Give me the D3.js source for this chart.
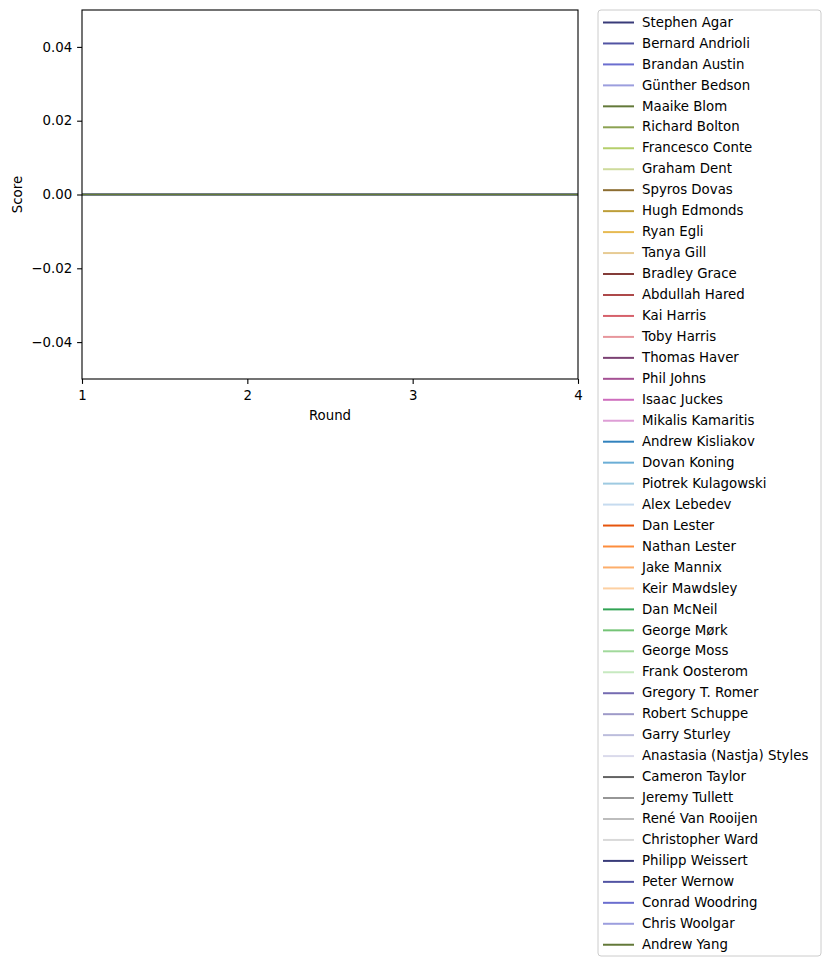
<!DOCTYPE html>
<html>
<head>
<meta charset="utf-8">
<script src="https://cdn.jsdelivr.net/npm/d3@7"></script>
<style>
  body { margin: 0; background: #fff; }
  svg text { font-family: "DejaVu Sans", sans-serif; fill: #000; }
</style>
</head>
<body>
<div class="chart"></div>
<script>
// data
const rounds = [1, 2, 3, 4];
const players = [
  "Stephen Agar", "Bernard Andrioli", "Brandan Austin", "Günther Bedson", "Maaike Blom",
  "Richard Bolton", "Francesco Conte", "Graham Dent", "Spyros Dovas", "Hugh Edmonds",
  "Ryan Egli", "Tanya Gill", "Bradley Grace", "Abdullah Hared", "Kai Harris",
  "Toby Harris", "Thomas Haver", "Phil Johns", "Isaac Juckes", "Mikalis Kamaritis",
  "Andrew Kisliakov", "Dovan Koning", "Piotrek Kulagowski", "Alex Lebedev", "Dan Lester",
  "Nathan Lester", "Jake Mannix", "Keir Mawdsley", "Dan McNeil", "George Mørk",
  "George Moss", "Frank Oosterom", "Gregory T. Romer", "Robert Schuppe", "Garry Sturley",
  "Anastasia (Nastja) Styles", "Cameron Taylor", "Jeremy Tullett", "René Van Rooijen", "Christopher Ward",
  "Philipp Weissert", "Peter Wernow", "Conrad Woodring", "Chris Woolgar", "Andrew Yang"
];
// score per round for each player (all flat at zero)
const scores = [
  [0,0,0,0],[0,0,0,0],[0,0,0,0],[0,0,0,0],[0,0,0,0],
  [0,0,0,0],[0,0,0,0],[0,0,0,0],[0,0,0,0],[0,0,0,0],
  [0,0,0,0],[0,0,0,0],[0,0,0,0],[0,0,0,0],[0,0,0,0],
  [0,0,0,0],[0,0,0,0],[0,0,0,0],[0,0,0,0],[0,0,0,0],
  [0,0,0,0],[0,0,0,0],[0,0,0,0],[0,0,0,0],[0,0,0,0],
  [0,0,0,0],[0,0,0,0],[0,0,0,0],[0,0,0,0],[0,0,0,0],
  [0,0,0,0],[0,0,0,0],[0,0,0,0],[0,0,0,0],[0,0,0,0],
  [0,0,0,0],[0,0,0,0],[0,0,0,0],[0,0,0,0],[0,0,0,0],
  [0,0,0,0],[0,0,0,0],[0,0,0,0],[0,0,0,0],[0,0,0,0]
];
const yTicks = [-0.04, -0.02, 0.00, 0.02, 0.04];

// tab20b followed by tab20c, cycling
const palette = [
  "#393b79","#5254a3","#6b6ecf","#9c9ede","#637939","#8ca252","#b5cf6b","#cedb9c",
  "#8c6d31","#bd9e39","#e7ba52","#e7cb94","#843c39","#ad494a","#d6616b","#e7969c",
  "#7b4173","#a55194","#ce6dbd","#de9ed6",
  "#3182bd","#6baed6","#9ecae1","#c6dbef","#e6550d","#fd8d3c","#fdae6b","#fdd0a2",
  "#31a354","#74c476","#a1d99b","#c7e9c0","#756bb1","#9e9ac8","#bcbddc","#dadaeb",
  "#636363","#969696","#bdbdbd","#d9d9d9"
];

const series = players.map((p, i) => ({
  name: p,
  color: palette[i % palette.length],
  values: rounds.map((r, j) => ({ round: r, score: scores[i][j] }))
}));

const W = 830, H = 967;
const margin = { top: 10, right: 252, bottom: 588, left: 82 };
const width = W - margin.left - margin.right,
      height = H - margin.top - margin.bottom;

const svg = d3.select(".chart").append("svg")
  .attr("width", W).attr("height", H);

const x = d3.scaleLinear().domain([1, 4]).range([0, width]);
const y = d3.scaleLinear().domain([-0.05, 0.05]).range([height, 0]);

const g = svg.append("g").attr("transform", `translate(${margin.left},${margin.top})`);

const line = d3.line().x(d => x(d.round)).y(d => y(d.score));

g.append("g")
  .selectAll("path")
  .data(series)
  .join("path")
    .attr("fill", "none")
    .attr("stroke", d => d.color)
    .attr("stroke-width", 2)
    .attr("d", d => line(d.values));

// axes
const xAxis = g.append("g")
  .attr("transform", `translate(0,${height})`)
  .call(d3.axisBottom(x).tickValues(rounds).tickFormat(d3.format("d")).tickSize(4.9).tickPadding(6.5));
const yAxis = g.append("g")
  .call(d3.axisLeft(y).tickValues(yTicks).tickFormat(d => d3.format(".2f")(d).replace("-", "\u2212")).tickSize(4.9).tickPadding(4.9));

[xAxis, yAxis].forEach(a => {
  a.selectAll("text").style("font-size", "13.33px").style("font-family", "DejaVu Sans");
  a.selectAll("line").attr("stroke", "#000").attr("stroke-width", 1.1);
  a.select(".domain").remove();
});

g.append("rect")
  .attr("width", width).attr("height", height)
  .attr("fill", "none").attr("stroke", "#000").attr("stroke-width", 1.1);

g.append("text")
  .attr("x", width / 2).attr("y", height + 41)
  .attr("text-anchor", "middle")
  .style("font-size", "13.33px")
  .text("Round");

g.append("text")
  .attr("transform", `translate(-60,${height / 2}) rotate(-90)`)
  .attr("text-anchor", "middle")
  .style("font-size", "13.33px")
  .text("Score");

// legend
const lg = svg.append("g").attr("transform", "translate(598,10)");
const rowH = 20.96;
lg.append("rect")
  .attr("x", 0).attr("y", 0)
  .attr("width", 223).attr("height", 946)
  .attr("rx", 3).attr("ry", 3)
  .attr("fill", "#fff").attr("fill-opacity", 0.8)
  .attr("stroke", "#ccc").attr("stroke-width", 1);

const item = lg.selectAll("g.item")
  .data(series)
  .join("g")
    .attr("class", "item")
    .attr("transform", (d, i) => `translate(0,${12 + i * rowH})`);

item.append("line")
  .attr("x1", 5).attr("x2", 36)
  .attr("y1", 0.5).attr("y2", 0.5)
  .attr("stroke", d => d.color)
  .attr("stroke-width", 2);

item.append("text")
  .attr("x", 44).attr("y", 0)
  .attr("dy", "0.35em")
  .style("font-size", "13.33px")
  .text(d => d.name);
</script>
</body>
</html>
